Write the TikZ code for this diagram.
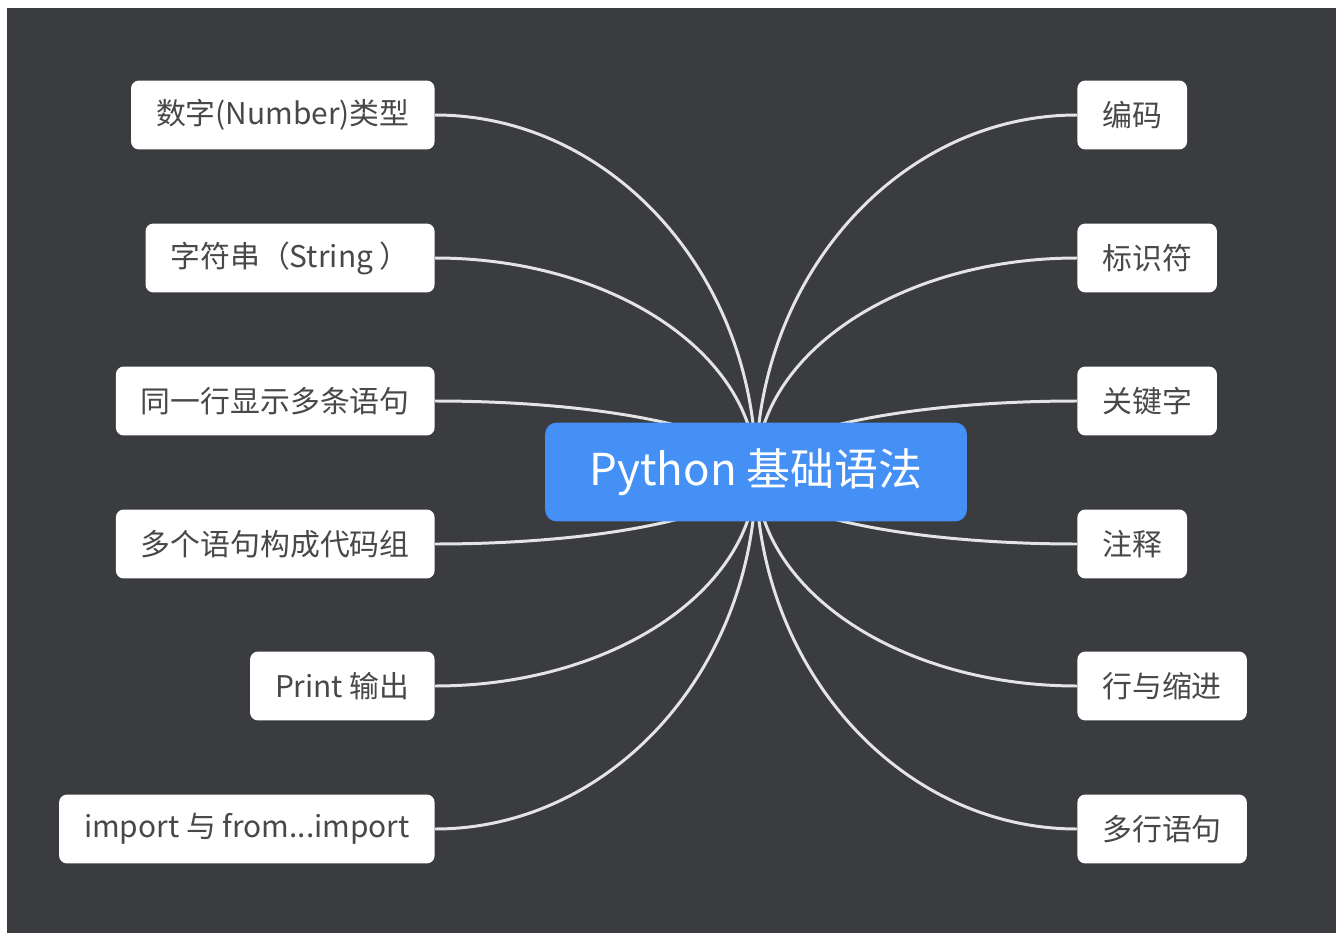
\documentclass[tikz,border=0pt]{standalone}
\usepackage{fontspec}
\setmainfont{Noto Sans CJK SC}
\usetikzlibrary{backgrounds}
\definecolor{BGcolor}{RGB}{58, 60, 64}
\definecolor{Rootcolor}{RGB}{69, 144, 245}
\definecolor{Linecolor}{RGB}{228, 228, 228}
\definecolor{Textcolor}{RGB}{72, 72, 72}
\def\leftx{435}
\def\rightx{1077}
\def\ctrlx{177}

\tikzset{
  topic/.style={fill=white, rounded corners=0.16cm, text=Textcolor,
    minimum height=1.38cm, inner xsep=0.5cm,
    font=\fontsize{17}{20}\selectfont},
  root/.style={fill=Rootcolor, rounded corners=0.24cm, text=white,
    minimum width=8.44cm, minimum height=1.98cm,
    font=\fontsize{25}{30}\selectfont},
  branch/.style={draw=Linecolor, line width=1.7pt}
}

\begin{document}
\begin{tikzpicture}[x=0.02cm, y=-0.02cm]
    \useasboundingbox (0,0) rectangle (1340,933);
    % central topic
    \node[root] (root) at (756,472) {Python 基础语法};
    % left topics
    \node[topic, anchor=east] (number) at (\leftx,115) {数字(Number)类型};
    \node[topic, anchor=east] (string) at (\leftx,258) {字符串（String ）};
    \node[topic, anchor=east] (oneline) at (\leftx,401) {同一行显示多条语句};
    \node[topic, anchor=east] (codegroup) at (\leftx,544) {多个语句构成代码组};
    \node[topic, anchor=east] (print) at (\leftx,686) {Print 输出};
    \node[topic, anchor=east] (import) at (\leftx,829) {import 与 from...import};
    % right topics
    \node[topic, anchor=west] (encoding) at (\rightx,115) {编码};
    \node[topic, anchor=west] (ident) at (\rightx,258) {标识符};
    \node[topic, anchor=west] (keyword) at (\rightx,401) {关键字};
    \node[topic, anchor=west] (comment) at (\rightx,544) {注释};
    \node[topic, anchor=west] (indent) at (\rightx,686) {行与缩进};
    \node[topic, anchor=west] (multiline) at (\rightx,829) {多行语句};
    % background and branches
    \begin{scope}[on background layer]
        \fill[BGcolor] (7,8) rectangle (1336,933);
        \draw[branch] (number.east) .. controls +(\ctrlx,0) and +(0,-196) .. (root.center);
        \draw[branch] (string.east) .. controls +(\ctrlx,0) and +(0,-118) .. (root.center);
        \draw[branch] (oneline.east) .. controls +(\ctrlx,0) and +(0,-39) .. (root.center);
        \draw[branch] (codegroup.east) .. controls +(\ctrlx,0) and +(0,40) .. (root.center);
        \draw[branch] (print.east) .. controls +(\ctrlx,0) and +(0,118) .. (root.center);
        \draw[branch] (import.east) .. controls +(\ctrlx,0) and +(0,196) .. (root.center);
        \draw[branch] (encoding.west) .. controls +(-\ctrlx,0) and +(0,-196) .. (root.center);
        \draw[branch] (ident.west) .. controls +(-\ctrlx,0) and +(0,-118) .. (root.center);
        \draw[branch] (keyword.west) .. controls +(-\ctrlx,0) and +(0,-39) .. (root.center);
        \draw[branch] (comment.west) .. controls +(-\ctrlx,0) and +(0,40) .. (root.center);
        \draw[branch] (indent.west) .. controls +(-\ctrlx,0) and +(0,118) .. (root.center);
        \draw[branch] (multiline.west) .. controls +(-\ctrlx,0) and +(0,196) .. (root.center);
    \end{scope}
\end{tikzpicture}
\end{document}
